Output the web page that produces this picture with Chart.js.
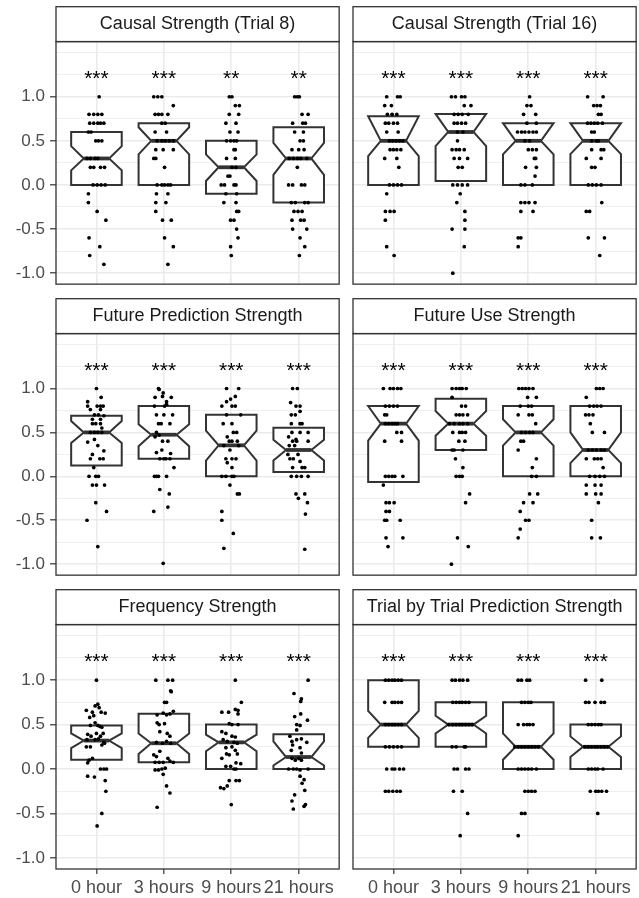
<!DOCTYPE html>
<html>
<head>
<meta charset="utf-8">
<script src="https://cdn.jsdelivr.net/npm/chart.js@4.4.1/dist/chart.umd.min.js"></script>
<style>
  html, body { margin: 0; padding: 0; background: #fff; overflow: hidden; }
  body { width: 639px; height: 898px; position: relative; }
  .cell { position: absolute; }
</style>
</head>
<body>
<script>
const groups = ['0 hour', '3 hours', '9 hours', '21 hours'];
const yMajor = [-1, -0.5, 0, 0.5, 1];
const yMinor = [-0.75, -0.25, 0.25, 0.75, 1.25, 1.5];
const starLevel = 1.25;

// Causal Strength (Trial 8)
const causal8Stars = ['***', '***', '**', '**'];
const causal8Q1 = [0, 0, -0.1, -0.2];
const causal8Median = [0.3, 0.5, 0.2, 0.3];
const causal8Q3 = [0.6, 0.7, 0.5, 0.655];
const causal8NotchLo = [0.165, 0.346, 0.045, 0.113];
const causal8NotchHi = [0.44, 0.654, 0.346, 0.477];
// [jitter, value] per participant
const causal8Points = [
  [[0.04,1],[-0.11,0.8],[-0.04,0.8],[0.02,0.8],[0.08,0.8],[-0.10,0.7],[-0.04,0.7],[0.02,0.7],[0.06,0.7],[0.11,0.7],
   [-0.12,0.6],[-0.08,0.6],[-0.01,0.5],[0.03,0.5],[0.08,0.5],[-0.14,0.3],[-0.09,0.3],[-0.02,0.3],[0.02,0.3],
   [-0.09,0.2],[-0.04,0.2],[0.06,0.2],[0.12,0.2],[-0.05,0],[0.01,0],[0.07,0],[0.13,0],[-0.12,-0.1],[-0.12,-0.2],
   [0.01,-0.3],[0.14,-0.4],[-0.11,-0.6],[0.05,-0.7],[-0.10,-0.8],[0.11,-0.9]],
  [[-0.15,1],[-0.09,1],[-0.03,1],[0.14,0.9],[-0.13,0.8],[-0.08,0.8],[-0.03,0.8],[0.06,0.8],[-0.03,0.7],[0.02,0.7],
   [-0.13,0.6],[0.04,0.6],[-0.10,0.5],[-0.03,0.5],[0.02,0.5],[0.08,0.5],[0.14,0.5],[-0.12,0.4],[-0.01,0.4],[0.14,0.4],
   [-0.15,0.3],[-0.12,0.3],[0.01,0.2],[-0.10,0],[-0.03,0],[0.01,0],[0.06,0],[0.10,0],[-0.11,-0.1],[0.06,-0.1],
   [-0.12,-0.2],[0.03,-0.2],[-0.12,-0.3],[-0.02,-0.4],[0.11,-0.4],[0.01,-0.6],[0.14,-0.7],[0.06,-0.9]],
  [[-0.03,1],[0.01,1],[0.06,0.9],[0.12,0.9],[-0.03,0.8],[0.11,0.8],[-0.08,0.7],[0.07,0.7],[-0.02,0.6],[0.10,0.6],
   [-0.07,0.5],[-0.01,0.5],[0.04,0.5],[0.08,0.5],[0.04,0.4],[0.06,0.4],[-0.07,0.3],[0.06,0.3],[0.01,0.2],[0.07,0.2],
   [-0.05,0.1],[-0.02,0.1],[-0.15,0],[-0.10,0],[0.04,0],[0.07,0],[-0.08,-0.1],[0.08,-0.1],[-0.11,-0.2],[0.07,-0.2],
   [0.08,-0.3],[0.11,-0.3],[-0.01,-0.4],[0.04,-0.4],[0.08,-0.5],[0.10,-0.6],[-0.01,-0.7],[0,-0.8]],
  [[-0.06,1],[-0.02,1],[0.01,1],[0.05,0.8],[0.14,0.8],[-0.09,0.7],[0.06,0.7],[0.10,0.7],[-0.06,0.6],[0.07,0.6],
   [0.02,0.5],[0.07,0.5],[-0.10,0.4],[0,0.4],[0.08,0.4],[-0.14,0.3],[-0.08,0.3],[-0.02,0.3],[0.03,0.3],[0.12,0.3],
   [-0.02,0.2],[-0.15,0],[-0.09,0],[0.04,0],[0.09,0],[-0.11,-0.2],[-0.05,-0.2],[0.09,-0.2],[0.14,-0.2],
   [-0.07,-0.3],[-0.01,-0.3],[0.05,-0.3],[-0.10,-0.4],[0.03,-0.4],[0.08,-0.4],[-0.09,-0.5],[0.12,-0.5],
   [0.02,-0.6],[0.09,-0.7],[0.01,-0.8]]
];

// Causal Strength (Trial 16)
const causal16Stars = ['***', '***', '***', '***'];
const causal16Q1 = [0, 0.045, 0, 0];
const causal16Median = [0.5, 0.6, 0.5, 0.5];
const causal16Q3 = [0.778, 0.805, 0.7, 0.7];
const causal16NotchLo = [0.327, 0.44, 0.346, 0.35];
const causal16NotchHi = [0.778, 0.805, 0.7, 0.7];
const causal16Points = [
  [[-0.10,1],[0.06,1],[0.10,1],[-0.13,0.9],[-0.03,0.9],[-0.09,0.8],[-0.02,0.8],[0.05,0.8],[-0.12,0.7],[-0.07,0.7],
   [0,0.7],[0.06,0.7],[-0.10,0.6],[0.07,0.6],[-0.06,0.5],[-0.01,0.5],[0.04,0.5],[0.09,0.5],[0.14,0.5],
   [-0.05,0.4],[0,0.4],[0.05,0.4],[0.11,0.4],[-0.13,0.3],[0.05,0.3],[0.08,0.2],[-0.06,0],[0,0],[0.06,0],[0.12,0],
   [-0.10,-0.1],[-0.12,-0.3],[-0.05,-0.3],[0.01,-0.3],[-0.12,-0.4],[-0.10,-0.7],[0.01,-0.8]],
  [[-0.14,1],[-0.08,1],[0.01,1],[0.06,1],[0.05,0.9],[0.15,0.9],[-0.10,0.8],[-0.04,0.8],[0.02,0.8],[0.11,0.8],
   [-0.10,0.7],[-0.05,0.7],[0.01,0.7],[0.07,0.7],[-0.05,0.6],[0.03,0.6],[-0.05,0.5],[-0.13,0.4],[-0.07,0.4],
   [-0.02,0.4],[0.05,0.4],[-0.10,0.3],[-0.02,0.3],[0.10,0.3],[-0.04,0.2],[0.02,0.2],[-0.12,0],[-0.05,0],[0.02,0],
   [0.10,0],[-0.01,-0.1],[-0.06,-0.2],[0.06,-0.3],[0.06,-0.4],[-0.13,-0.5],[0.06,-0.5],[0.05,-0.7],[-0.12,-1]],
  [[0.02,1],[-0.02,0.9],[0.04,0.9],[-0.07,0.8],[0.11,0.8],[-0.02,0.7],[0.12,0.7],[-0.16,0.6],[-0.10,0.6],
   [-0.05,0.6],[0.01,0.6],[0.07,0.6],[0.12,0.6],[-0.05,0.5],[0.02,0.5],[0,0.4],[0.06,0.4],[0.12,0.4],[0.09,0.3],
   [0.11,0.3],[-0.04,0.2],[0.12,0.2],[0.10,0.1],[-0.11,0],[-0.05,0],[0.06,0],[-0.11,-0.2],[-0.05,-0.2],[0.01,-0.2],
   [0.10,-0.2],[-0.11,-0.3],[0.07,-0.3],[-0.15,-0.6],[-0.11,-0.6],[-0.15,-0.7]],
  [[-0.12,1],[0.11,1],[-0.03,0.9],[0.02,0.9],[0.07,0.9],[0.04,0.8],[0.08,0.8],[-0.12,0.7],[-0.07,0.7],[-0.02,0.7],
   [0.03,0.7],[0.10,0.7],[-0.06,0.6],[-0.02,0.6],[-0.06,0.5],[0.01,0.5],[0.04,0.5],[-0.06,0.4],[0.08,0.4],
   [0.12,0.4],[-0.14,0.3],[0.08,0.3],[-0.06,0.2],[-0.01,0.2],[-0.11,0],[-0.05,0],[0.01,0],[0.08,0],[0.09,-0.2],
   [-0.14,-0.3],[-0.09,-0.3],[-0.11,-0.6],[0.13,-0.6],[0.06,-0.8]]
];

// Future Prediction Strength
const predStars = ['***', '***', '***', '***'];
const predQ1 = [0.124, 0.2, 0, 0.05];
const predMedian = [0.5, 0.474, 0.353, 0.3];
const predQ3 = [0.69, 0.8, 0.7, 0.553];
const predNotchLo = [0.38, 0.342, 0.18, 0.18];
const predNotchHi = [0.63, 0.594, 0.519, 0.417];
const predPoints = [
  [[0,1],[-0.13,0.85],[0.07,0.9],[-0.13,0.8],[0.01,0.8],[0.06,0.8],[0.10,0.8],[-0.09,0.76],[0.06,0.76],
   [-0.03,0.7],[0.03,0.7],[0.11,0.69],[-0.06,0.65],[0.06,0.65],[-0.06,0.6],[-0.01,0.6],[0.06,0.6],[0.08,0.55],
   [-0.09,0.5],[-0.03,0.5],[0.02,0.5],[0.08,0.5],[-0.13,0.39],[-0.03,0.42],[0.02,0.35],[0.11,0.29],[-0.06,0.25],
   [-0.09,0.2],[0.05,0.2],[0.10,0.2],[-0.04,0.1],[-0.11,0],[-0.01,0],[0.03,0],[-0.06,-0.1],[0,-0.1],[0.12,-0.1],
   [-0.01,-0.3],[0.15,-0.4],[-0.14,-0.5],[0.02,-0.8]],
  [[-0.08,1],[-0.07,0.99],[-0.13,0.9],[-0.02,0.91],[0.11,0.9],[-0.01,0.95],[-0.14,0.8],[0.01,0.8],[0.04,0.82],
   [0.04,0.85],[-0.11,0.7],[0,0.7],[0.13,0.7],[-0.08,0.6],[-0.04,0.6],[0.09,0.6],[-0.11,0.5],[-0.07,0.47],
   [-0.13,0.45],[-0.02,0.4],[0.06,0.4],[-0.11,0.27],[-0.03,0.3],[0.10,0.26],[-0.06,0.2],[0,0.2],[0.03,0.2],
   [0.09,0.2],[0.15,0.1],[-0.14,0],[-0.11,0],[-0.08,0],[0.04,0],[-0.06,-0.15],[0.08,-0.2],[0.06,-0.35],
   [-0.15,-0.4],[-0.01,-0.99]],
  [[-0.07,1],[0.11,1],[-0.07,0.85],[0.06,0.91],[-0.01,0.88],[-0.14,0.8],[0.01,0.8],[0.06,0.8],[-0.07,0.7],
   [0.14,0.7],[-0.12,0.6],[0.01,0.6],[0.03,0.5],[0.08,0.5],[-0.06,0.45],[-0.03,0.4],[0.01,0.4],[0.09,0.4],
   [-0.11,0.35],[0.11,0.35],[-0.02,0.3],[-0.08,0.2],[0.01,0.2],[0.07,0.2],[-0.06,0.155],[0.01,0.1],[-0.14,0],
   [-0.08,0],[0.01,0],[0.04,0],[-0.02,-0.1],[0.09,-0.2],[0.12,-0.2],[-0.14,-0.4],[-0.14,-0.5],[0.03,-0.65],
   [-0.11,-0.82]],
  [[-0.09,1],[-0.02,1],[-0.12,0.84],[-0.04,0.8],[0.02,0.8],[0.02,0.74],[-0.11,0.7],[-0.05,0.7],[-0.11,0.6],
   [0.02,0.6],[0.05,0.6],[-0.15,0.45],[-0.04,0.42],[-0.10,0.5],[0.02,0.5],[0.14,0.5],[-0.09,0.4],[-0.03,0.4],
   [0.14,0.4],[-0.14,0.35],[-0.06,0.35],[-0.16,0.25],[-0.01,0.25],[-0.13,0.2],[-0.08,0.2],[0.02,0.17],
   [-0.09,0.1],[0.05,0.1],[0.09,0.1],[-0.11,0],[-0.03,0],[0.04,0],[0.14,0],[-0.04,-0.2],[0.09,-0.2],
   [-0.005,-0.25],[0.13,-0.3],[0.10,-0.43],[0.09,-0.83]]
];

// Future Use Strength
const useStars = ['***', '***', '***', '***'];
const useQ1 = [-0.065, 0.3, 0, 0];
const useMedian = [0.6, 0.6, 0.5, 0.3];
const useQ3 = [0.8, 0.883, 0.8, 0.8];
const useNotchLo = [0.406, 0.462, 0.35, 0.15];
const useNotchHi = [0.8, 0.744, 0.65, 0.5];
const usePoints = [
  [[-0.15,1],[-0.05,1],[0,1],[0.06,1],[0.11,1],[-0.12,0.8],[-0.06,0.8],[0,0.8],[0.06,0.8],[-0.13,0.7],[-0.10,0.7],
   [-0.12,0.6],[-0.07,0.6],[-0.02,0.6],[0.02,0.6],[0.06,0.6],[0.05,0.5],[0.12,0.5],[-0.13,0.4],[0.12,0.4],
   [-0.12,0],[-0.07,0],[-0.02,0],[0.02,0],[0.14,0],[-0.15,-0.1],[-0.11,-0.3],[-0.06,-0.3],[0.01,-0.3],
   [-0.11,-0.4],[-0.06,-0.4],[-0.13,-0.5],[-0.10,-0.5],[0.10,-0.5],[-0.11,-0.7],[0.14,-0.7],[-0.08,-0.8]],
  [[-0.13,1],[-0.07,1],[-0.02,1],[0.02,1],[0.08,1],[-0.13,0.9],[0.01,0.8],[0.07,0.8],[-0.07,0.7],[-0.02,0.7],
   [0.03,0.7],[0.10,0.7],[-0.17,0.6],[-0.10,0.6],[-0.02,0.6],[0.03,0.6],[0.10,0.6],[-0.12,0.5],[-0.02,0.5],
   [0.02,0.5],[0.07,0.5],[-0.03,0.4],[0.06,0.4],[-0.13,0.3],[-0.10,0.3],[0.03,0.3],[-0.08,0.2],[0.03,0.1],
   [-0.07,0],[-0.02,0],[0.02,0],[0.13,-0.2],[0.07,-0.3],[-0.05,-0.7],[0.11,-0.8],[-0.14,-1]],
  [[-0.14,1],[-0.09,1],[-0.04,1],[0.01,1],[0.07,1],[-0.01,0.9],[0.12,0.9],[-0.12,0.8],[0,0.8],[0.05,0.8],
   [-0.15,0.7],[0.01,0.7],[0.06,0.7],[0.11,0.6],[-0.10,0.5],[-0.04,0.5],[0.02,0.5],[0.07,0.5],[-0.11,0.4],
   [-0.07,0.4],[-0.15,0.3],[0.12,0.2],[0.06,0.1],[0.05,0],[0.12,0],[0.02,-0.2],[0.14,-0.2],[-0.07,-0.3],
   [0.07,-0.3],[-0.12,-0.4],[-0.04,-0.5],[0.01,-0.5],[-0.12,-0.6],[-0.15,-0.7]],
  [[0.01,1],[0.06,1],[0.11,1],[-0.14,0.9],[-0.09,0.8],[-0.03,0.8],[0.02,0.8],[0.08,0.8],[-0.15,0.7],[-0.10,0.7],
   [-0.04,0.7],[-0.08,0.6],[-0.05,0.5],[0.13,0.5],[-0.11,0.3],[-0.05,0.3],[0.01,0.3],[0.08,0.3],[0.13,0.3],
   [-0.14,0.2],[-0.02,0.2],[0.03,0.2],[0.08,0.2],[0.11,0.1],[-0.09,0],[-0.01,0],[0.06,0],[0.13,0],[-0.14,-0.1],
   [-0.01,-0.1],[0.08,-0.1],[-0.14,-0.2],[0,-0.2],[0.08,-0.2],[0.04,-0.3],[-0.06,-0.5],[-0.06,-0.7],[0.07,-0.7]]
];

// Frequency Strength
const freqStars = ['***', '***', '***', '***'];
const freqQ1 = [0.105, 0.075, 0, 0];
const freqMedian = [0.32, 0.29, 0.3, 0.135];
const freqQ3 = [0.49, 0.622, 0.5, 0.39];
const freqNotchLo = [0.236, 0.17, 0.2, 0.04];
const freqNotchHi = [0.4, 0.4, 0.386, 0.31];
const freqPoints = [
  [[0,1],[0.02,0.73],[-0.02,0.71],[0.04,0.69],[-0.15,0.66],[-0.06,0.64],[0.07,0.64],[0.13,0.63],[-0.10,0.58],
   [-0.04,0.6],[-0.02,0.52],[0.02,0.49],[0.05,0.48],[-0.09,0.49],[0.08,0.47],[-0.13,0.39],[-0.08,0.37],[0,0.4],
   [0.06,0.37],[0.10,0.4],[-0.14,0.33],[-0.02,0.33],[0.03,0.34],[0.11,0.3],[-0.15,0.25],[-0.09,0.25],[0.08,0.27],
   [0.12,0.29],[-0.06,0.12],[-0.11,0.1],[-0.13,0.07],[0.06,0],[0.11,0],[0.15,0],[-0.13,-0.08],[-0.03,-0.09],
   [0.13,-0.13],[0.14,-0.25],[0.08,-0.5],[0.01,-0.64]],
  [[-0.12,1],[0.06,1],[0.13,1],[0.10,0.88],[0.11,0.87],[0.01,0.75],[0.04,0.75],[-0.10,0.61],[-0.01,0.63],
   [0.04,0.61],[0.09,0.62],[0.14,0.65],[-0.10,0.52],[-0.07,0.5],[0.01,0.51],[-0.06,0.42],[0.05,0.4],[0.09,0.37],
   [-0.11,0.3],[-0.02,0.29],[0.04,0.31],[0.10,0.29],[-0.15,0.16],[-0.06,0.2],[-0.11,0.14],[0.06,0.12],
   [-0.13,0.075],[-0.07,0.075],[-0.01,0.075],[0.09,0.09],[0.14,0.075],[-0.13,-0.01],[-0.08,-0.01],[-0.03,0],
   [0.02,0.01],[-0.01,-0.06],[0.04,-0.19],[0.09,-0.27],[-0.10,-0.43]],
  [[0.06,1],[0.15,0.75],[0.06,0.67],[0.10,0.66],[-0.14,0.64],[-0.04,0.64],[0.10,0.62],[-0.03,0.51],[0.01,0.5],
   [0.10,0.5],[-0.14,0.42],[-0.08,0.4],[0.01,0.37],[0.06,0.36],[-0.12,0.33],[-0.06,0.31],[0.04,0.3],[0.09,0.29],
   [-0.08,0.24],[0.01,0.25],[0.06,0.21],[-0.07,0.17],[-0.03,0.16],[0.09,0.17],[-0.14,0.12],[0.07,0.07],
   [0.14,0.06],[-0.08,0.03],[-0.01,0.03],[0.04,0],[0.07,0],[-0.03,-0.13],[0.07,-0.13],[0.12,-0.13],
   [-0.16,-0.21],[-0.11,-0.22],[-0.06,-0.19],[0,-0.4]],
  [[0.14,1],[-0.07,0.85],[0.04,0.79],[0.03,0.76],[-0.06,0.59],[0.03,0.62],[0.13,0.55],[-0.03,0.5],[0.02,0.49],
   [-0.03,0.44],[-0.13,0.37],[-0.10,0.31],[-0.03,0.33],[0.04,0.34],[0.12,0.3],[-0.09,0.27],[-0.11,0.21],
   [0.02,0.24],[0.04,0.18],[-0.10,0.12],[-0.05,0.1],[0.04,0.1],[0,0.12],[-0.15,0],[-0.08,0],[-0.03,0],
   [0.02,-0.01],[0.14,0],[0.02,-0.08],[0.05,-0.16],[0.08,-0.12],[0.09,-0.24],[-0.06,-0.29],[-0.10,-0.36],
   [-0.08,-0.45],[0.08,-0.42],[0.10,-0.4]]
];

// Trial by Trial Prediction Strength
const trialStars = ['***', '***', '***', '***'];
const trialQ1 = [0.25, 0.25, 0, 0];
const trialMedian = [0.5, 0.5, 0.25, 0.25];
const trialQ3 = [1, 0.75, 0.75, 0.5];
const trialNotchLo = [0.35, 0.4, 0.105, 0.135];
const trialNotchHi = [0.655, 0.6, 0.4, 0.367];
const trialPoints = [
  [[-0.12,1],[-0.07,1],[-0.02,1],[0.02,1],[0.07,1],[0.12,1],[-0.13,0.75],[-0.02,0.75],[0.02,0.75],[0.07,0.75],
   [0.12,0.75],[-0.12,0.5],[-0.07,0.5],[-0.02,0.5],[0.02,0.5],[0.07,0.5],[0.12,0.5],[-0.12,0.25],[-0.06,0.25],
   [0,0.25],[0.06,0.25],[0.12,0.25],[-0.10,0],[-0.02,0],[0.02,0],[0.09,0],[0.15,0],[-0.12,-0.25],[-0.07,-0.25],
   [-0.01,-0.25],[0.05,-0.25],[0.10,-0.25]],
  [[-0.13,1],[-0.08,1],[-0.02,1],[0.03,1],[0.10,1],[-0.12,0.75],[-0.07,0.75],[-0.02,0.75],[0.02,0.75],
   [0.07,0.75],[0.12,0.75],[-0.18,0.5],[-0.12,0.5],[-0.07,0.5],[-0.02,0.5],[0.02,0.5],[0.07,0.5],[0.12,0.5],
   [0.17,0.5],[-0.13,0.25],[-0.07,0.25],[0.05,0.25],[0.07,0.25],[-0.10,0],[-0.05,0],[0.07,0],[0.12,0],
   [-0.11,-0.25],[0.02,-0.25],[0.10,-0.5],[-0.01,-0.75]],
  [[-0.15,1],[-0.10,1],[-0.02,1],[0.02,1],[-0.10,0.75],[-0.05,0.75],[0,0.75],[0.04,0.75],[-0.15,0.5],
   [-0.07,0.5],[-0.02,0.5],[0.02,0.5],[0.07,0.5],[-0.20,0.25],[-0.15,0.25],[-0.10,0.25],[-0.05,0.25],[0,0.25],
   [0.05,0.25],[0.10,0.25],[0.15,0.25],[-0.15,0],[-0.10,0],[-0.05,0],[0,0],[0.05,0],[0.12,0],[-0.05,-0.25],
   [0,-0.25],[0.05,-0.25],[0.10,-0.25],[-0.10,-0.5],[-0.05,-0.5],[-0.15,-0.75]],
  [[-0.15,1],[0.09,1],[-0.15,0.75],[-0.10,0.75],[-0.01,0.75],[0.08,0.75],[0.13,0.75],[-0.11,0.5],[-0.06,0.5],
   [-0.01,0.5],[0.04,0.5],[0.08,0.5],[-0.16,0.25],[-0.11,0.25],[-0.06,0.25],[-0.01,0.25],[0.03,0.25],
   [0.08,0.25],[0.13,0.25],[0.18,0.25],[-0.11,0],[-0.06,0],[-0.01,0],[0.03,0],[0.11,0],[-0.08,-0.25],
   [0,-0.25],[0.04,-0.25],[0.09,-0.25],[0.16,-0.25],[0.03,-0.5]]
];

const panels = [
  { title: 'Causal Strength (Trial 8)', stars: causal8Stars, q1: causal8Q1, med: causal8Median, q3: causal8Q3,
    lo: causal8NotchLo, hi: causal8NotchHi, points: causal8Points },
  { title: 'Causal Strength (Trial 16)', stars: causal16Stars, q1: causal16Q1, med: causal16Median, q3: causal16Q3,
    lo: causal16NotchLo, hi: causal16NotchHi, points: causal16Points },
  { title: 'Future Prediction Strength', stars: predStars, q1: predQ1, med: predMedian, q3: predQ3,
    lo: predNotchLo, hi: predNotchHi, points: predPoints },
  { title: 'Future Use Strength', stars: useStars, q1: useQ1, med: useMedian, q3: useQ3,
    lo: useNotchLo, hi: useNotchHi, points: usePoints },
  { title: 'Frequency Strength', stars: freqStars, q1: freqQ1, med: freqMedian, q3: freqQ3,
    lo: freqNotchLo, hi: freqNotchHi, points: freqPoints },
  { title: 'Trial by Trial Prediction Strength', stars: trialStars, q1: trialQ1, med: trialMedian, q3: trialQ3,
    lo: trialNotchLo, hi: trialNotchHi, points: trialPoints }
];

// page layout (px)
const FONT = '"Liberation Sans", Arial, Helvetica, sans-serif';
const colLeft = [0, 348], colWidth = [341, 290], yAxisWidth = [56, 5];
const rowTop = [6, 298, 589], rowHeight = [280, 279, 309], xAxisHeight = [0, 0, 29];
const STRIP = 35.6;
const INK = '#333333';

const isMajor = v => yMajor.includes(v);

function panelPlugin(p) {
  return {
    id: 'panelDecor',
    beforeDatasetsDraw(chart) {
      const { ctx } = chart;
      const xs = chart.scales.x, ys = chart.scales.y;
      ctx.save();
      ctx.lineJoin = 'miter';
      for (let k = 0; k < groups.length; k++) {
        const l = xs.getPixelForValue(k + 1 - 0.375), r = xs.getPixelForValue(k + 1 + 0.375);
        const inset = (r - l) / 4;
        const yq1 = ys.getPixelForValue(p.q1[k]), yq3 = ys.getPixelForValue(p.q3[k]);
        const ym = ys.getPixelForValue(p.med[k]);
        const ylo = ys.getPixelForValue(Math.max(p.lo[k], p.q1[k]));
        const yhi = ys.getPixelForValue(Math.min(p.hi[k], p.q3[k]));
        ctx.beginPath();
        ctx.moveTo(l, yq1); ctx.lineTo(l, ylo); ctx.lineTo(l + inset, ym); ctx.lineTo(l, yhi); ctx.lineTo(l, yq3);
        ctx.lineTo(r, yq3); ctx.lineTo(r, yhi); ctx.lineTo(r - inset, ym); ctx.lineTo(r, ylo); ctx.lineTo(r, yq1);
        ctx.closePath();
        ctx.fillStyle = '#ffffff';
        ctx.fill();
        ctx.strokeStyle = INK;
        ctx.lineWidth = 2;
        ctx.stroke();
        ctx.beginPath();
        ctx.moveTo(l + inset, ym); ctx.lineTo(r - inset, ym);
        ctx.lineWidth = 3.8;
        ctx.stroke();
      }
      ctx.restore();
    },
    afterDatasetsDraw(chart) {
      const { ctx } = chart;
      const xs = chart.scales.x, ys = chart.scales.y;
      ctx.save();
      ctx.fillStyle = '#000';
      ctx.font = '21px ' + FONT;
      ctx.textAlign = 'center';
      ctx.textBaseline = 'alphabetic';
      p.stars.forEach((s, k) => {
        ctx.fillText(s, xs.getPixelForValue(k + 1), ys.getPixelForValue(starLevel) + 10);
      });
      ctx.restore();
    },
    afterDraw(chart) {
      const { ctx, chartArea: a } = chart;
      ctx.save();
      ctx.strokeStyle = INK;
      ctx.lineWidth = 1.3;
      ctx.strokeRect(a.left, a.top, a.right - a.left, a.bottom - a.top);
      ctx.strokeRect(a.left, a.top - STRIP + 0.7, a.right - a.left, STRIP - 0.7);
      ctx.restore();
    }
  };
}

panels.forEach((p, i) => {
  const col = i % 2, row = Math.floor(i / 2);
  const box = document.createElement('div');
  box.className = 'cell';
  box.style.left = colLeft[col] + 'px';
  box.style.top = rowTop[row] + 'px';
  const canvas = document.createElement('canvas');
  canvas.width = colWidth[col];
  canvas.height = rowHeight[row];
  box.appendChild(canvas);
  document.body.appendChild(box);

  const pts = p.points.flatMap((grp, g) => grp.map(([dx, v]) => ({ x: g + 1 + dx, y: v })));
  const bottomRow = row === 2, leftCol = col === 0;

  new Chart(canvas, {
    type: 'scatter',
    data: {
      datasets: [{
        data: pts,
        pointRadius: 1.85,
        pointHoverRadius: 1.85,
        pointBackgroundColor: '#000000',
        pointBorderWidth: 0
      }]
    },
    options: {
      responsive: false,
      animation: false,
      events: [],
      layout: { padding: 0 },
      plugins: {
        legend: { display: false },
        tooltip: { enabled: false },
        title: {
          display: true,
          text: p.title,
          fullSize: false,
          color: '#1A1A1A',
          font: { family: FONT, size: 18, weight: 'normal' },
          padding: { top: 7, bottom: 7 }
        }
      },
      scales: {
        x: {
          type: 'linear',
          min: 0.4,
          max: 4.6,
          bounds: 'data',
          afterBuildTicks: s => { s.ticks = groups.map((g, k) => ({ value: k + 1 })); },
          ticks: {
            display: bottomRow,
            autoSkip: false,
            maxRotation: 0,
            padding: 3,
            color: '#4D4D4D',
            font: { family: FONT, size: 18 },
            callback: v => groups[v - 1]
          },
          grid: {
            color: '#EBEBEB',
            lineWidth: 1.6,
            drawTicks: bottomRow,
            tickLength: 5,
            tickColor: INK,
            tickWidth: 1.2
          },
          border: { display: false },
          afterFit: s => {
            s.height = xAxisHeight[row];
            s.paddingLeft = 0; s.paddingRight = 0;
          }
        },
        y: {
          min: -1.125,
          max: 1.625,
          bounds: 'data',
          afterBuildTicks: s => {
            s.ticks = yMajor.concat(yMinor).sort((a, b) => a - b).map(v => ({ value: v }));
          },
          ticks: {
            display: leftCol,
            autoSkip: false,
            padding: 5,
            color: '#4D4D4D',
            font: { family: FONT, size: 17 },
            callback: v => (isMajor(v) ? v.toFixed(1) : '')
          },
          grid: {
            color: '#EBEBEB',
            lineWidth: c => (c.tick && isMajor(c.tick.value) ? 1.6 : 0.8),
            drawTicks: leftCol,
            tickLength: 6,
            tickColor: c => (c.tick && isMajor(c.tick.value) ? INK : 'rgba(0,0,0,0)'),
            tickWidth: 1.2
          },
          border: { display: false },
          afterFit: s => {
            s.width = yAxisWidth[col];
            s.paddingTop = 0; s.paddingBottom = 0;
          }
        }
      }
    },
    plugins: [panelPlugin(p)]
  });
});
</script>
</body>
</html>
